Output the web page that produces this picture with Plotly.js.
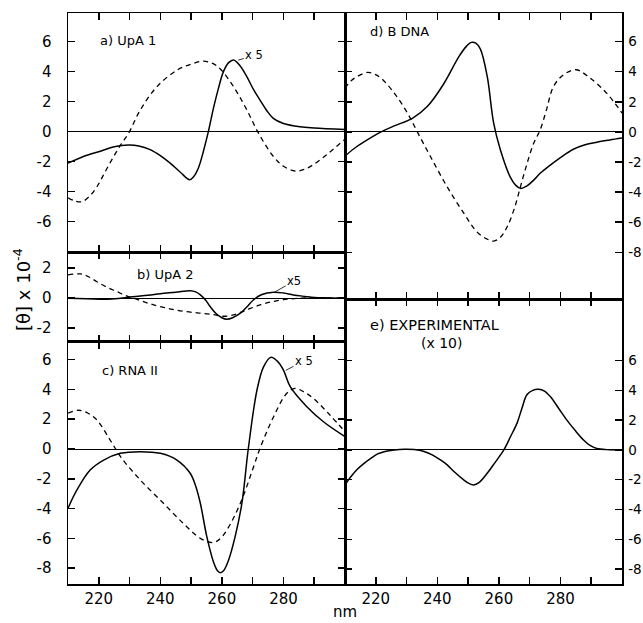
<!DOCTYPE html>
<html>
<head>
<meta charset="utf-8">
<script src="https://cdn.plot.ly/plotly-3.0.1.min.js"></script>
<style>html,body{margin:0;padding:0;background:#fff;}#chart{width:643px;height:623px;}</style>
</head>
<body>
<div id="chart"></div>
<script>
// ---- data (wavelength nm, [theta] x 10^-4) ----
const aSolidNm = [210,215,220.5,225,229.7,233,236.7,240,243.2,246.5,249.5,250.8,252.4,254,255.6,257.3,258.9,260.5,262.2,263.8,265.9,268.1,270.3,272.4,274.6,276.7,280,285.4,290,300];
const aSolidVal = [-2.1,-1.65,-1.3,-1.0,-0.89,-0.95,-1.2,-1.6,-2.1,-2.7,-3.2,-3.0,-2.4,-1.3,0,1.6,2.9,4.0,4.6,4.78,4.4,3.67,2.8,2.1,1.4,0.89,0.55,0.33,0.25,0.15];
const aDashNm = [210,212,214.5,217,219.4,222,224.8,227.2,229.7,233.5,238.9,245.4,250,254,257,259.4,263.8,268.1,271.9,276.8,280,283.8,287,289.7,293,296,300];
const aDashVal = [-4.4,-4.6,-4.67,-4.3,-3.67,-2.7,-1.67,-0.85,-0.1,1.45,3.0,4.1,4.5,4.7,4.55,4.2,3.0,1.45,-0.1,-1.67,-2.3,-2.62,-2.5,-2.2,-1.7,-1.2,-0.5];

const bSolidNm = [210,216,222.7,227,231,236,240,245,249.7,251.5,253,254.8,256.2,258,260,261.6,263.5,266,268,270.3,273,276.8,280,283.2,287,290,295,300];
const bSolidVal = [0,-0.03,-0.07,0,0.1,0.2,0.3,0.4,0.5,0.42,0.22,-0.15,-0.56,-1.0,-1.3,-1.4,-1.3,-1.0,-0.6,-0.1,0.25,0.4,0.35,0.22,0.12,0.05,0.02,0];
const bDashNm = [210,214,216.5,219.4,222.5,225.9,229,232.4,236,240,244,248.6,253,257.3,260,263,266,269,272.4,276,280,285,290,300];
const bDashVal = [1.55,1.62,1.45,1.1,0.75,0.44,0.15,-0.07,-0.33,-0.56,-0.75,-0.9,-1.0,-1.1,-1.2,-1.15,-0.95,-0.7,-0.45,-0.25,-0.1,0,0.02,0];

const cSolidNm = [210,212.9,217.2,221.6,227,233.5,240,245.4,249.7,251.5,253,255.1,257.3,258.5,259.5,260.6,262.1,264.3,266.5,268.6,271.4,273.5,275.9,278,280,282.2,287.6,293,300];
const cSolidVal = [-3.98,-2.75,-1.41,-0.74,-0.29,-0.18,-0.29,-0.74,-1.63,-2.5,-3.64,-5.88,-7.6,-8.15,-8.3,-8.15,-7.5,-5.88,-3.64,0.05,3.96,5.5,6.15,5.9,5.3,4.18,2.84,1.83,0.83];
const cDashNm = [210,213.4,216.5,219.4,223.7,227.5,233.5,241,247.5,253,256.8,259,261.6,266,270.3,272.4,276.8,281.1,283.8,286.5,289.7,295.1,300];
const cDashVal = [2.4,2.6,2.4,1.95,0.6,-0.63,-2.08,-3.64,-5,-6.0,-6.28,-6.1,-5.44,-3.64,-1.19,0.05,2.17,3.74,4.07,3.85,3.4,2.28,1.16];

const dSolidNm = [210,213,216.3,221.7,226,231.9,236.8,242.1,247,249.5,251,252.5,254,256.2,258.3,260.5,263.7,265.5,267,269,271.3,273.4,276.7,280,284.2,288,291.8,296,300];
const dSolidVal = [-1.6,-1.1,-0.65,0,0.4,0.9,1.7,3.2,5.0,5.7,5.95,5.9,5.5,3.7,0.58,-1.2,-3.0,-3.55,-3.75,-3.6,-3.2,-2.75,-2.2,-1.7,-1.15,-0.85,-0.68,-0.53,-0.4];
const dDashNm = [210,212,214.1,217.3,219.5,221.7,226,230.3,233.5,237.8,243.2,248.6,252.9,256,258.3,260.5,262.7,265,267,269,271.3,273.4,275.5,277.7,281,285.1,289.6,295,300];
const dDashVal = [2.9,3.4,3.7,3.95,3.85,3.58,2.58,1.25,0,-1.65,-3.65,-5.4,-6.65,-7.1,-7.25,-7.0,-6.3,-5.1,-3.65,-2.2,-0.75,0.13,1.5,3.0,3.8,4.13,3.58,2.58,1.25];

const eNm = [210,211.9,214,216.2,218.5,220.6,223,226,229.3,232.5,235.7,238.5,241,243.2,245.4,248.5,250.3,251.8,253.5,256.2,258.9,261.6,263.8,265.9,267.5,269.1,271,272.9,274.8,276.7,279.4,282.1,284.8,287.5,289.6,291.8,295,300];
const eVal = [-2.35,-1.8,-1.3,-0.9,-0.55,-0.27,-0.1,0,0.05,0.03,-0.1,-0.35,-0.67,-1.0,-1.45,-2.0,-2.25,-2.35,-2.2,-1.57,-0.8,0,0.9,1.8,2.8,3.7,4.0,4.07,3.95,3.58,2.8,2.0,1.3,0.67,0.3,0.1,0.02,0];

const xTickVals = [220,240,260,280];
const xMinorTickVals = [230,250,270,290];
const yTicksAC = [-8,-6,-4,-2,0,2,4,6];
const yTickTextAC = ['-8','-6','-4','-2','0','2','4','6'];
const yTicksA = [-6,-4,-2,0,2,4,6];
const yTickTextA = ['-6','-4','-2','0','2','4','6'];
const yTicksB = [-2,0,2];
const yTickTextB = ['-2','0','2'];
const panelLabels = ['a) UpA 1','b) UpA 2','c) RNA II','d) B DNA','e) EXPERIMENTAL','(x 10)'];

// ---- styling ----
const FONT = 'DejaVu Sans, Arial, sans-serif';
const solid = {color:'#000', width:1.5, shape:'spline', smoothing:1};
const dash = {color:'#000', width:1.3, dash:'5px,4px', shape:'spline', smoothing:1};

function tr(x, y, line, xa, ya){
  return {x:x, y:y, mode:'lines', line:line, xaxis:xa, yaxis:ya, hoverinfo:'skip', showlegend:false};
}
const data = [
  tr(aSolidNm,aSolidVal,solid,'x','y'), tr(aDashNm,aDashVal,dash,'x','y'),
  tr(bSolidNm,bSolidVal,solid,'x2','y2'), tr(bDashNm,bDashVal,dash,'x2','y2'),
  tr(cSolidNm,cSolidVal,solid,'x3','y3'), tr(cDashNm,cDashVal,dash,'x3','y3'),
  tr(dSolidNm,dSolidVal,solid,'x4','y4'), tr(dDashNm,dDashVal,dash,'x4','y4'),
  tr(eNm,eVal,solid,'x5','y5')
];

function xax(domain, anchor, labels){
  return {domain:domain, anchor:anchor, range:[210,300], showline:true, linecolor:'#000', linewidth:1.5,
    mirror:'allticks', ticks:'inside', ticklen:7, tickcolor:'#000', tickwidth:1.5,
    tickmode:'array', tickvals:xTickVals, showticklabels:labels,
    minor:{tickmode:'array', tickvals:xMinorTickVals, ticks:'inside', ticklen:7, tickcolor:'#000', tickwidth:1.5, showgrid:false},
    showgrid:false, zeroline:false, tickfont:{family:FONT, size:15, color:'#000'}};
}
function yax(domain, anchor, range, ticks, text, side){
  return {domain:domain, anchor:anchor, range:range, side:side, showline:true, linecolor:'#000', linewidth:1.5,
    mirror:'allticks', ticks:'inside', ticklen:7, tickcolor:'#000', tickwidth:1.5,
    tickmode:'array', tickvals:ticks, ticktext:text, showgrid:false,
    zeroline:true, zerolinecolor:'#000', zerolinewidth:1,
    ticklabelstandoff: side==='left'?12:2,
    tickfont:{family:FONT, size: side==='left'?15:13.5, color:'#000'}};
}

const ann = (x,y,xref,yref,text,opts) => Object.assign({x:x,y:y,xref:xref,yref:yref,text:text,showarrow:false,
  font:{family:FONT,size:12.5,color:'#000'}}, opts||{});

const layout = {
  width:643, height:623,
  margin:{l:68, r:21, t:13, b:39},
  paper_bgcolor:'#fff', plot_bgcolor:'#fff',
  showlegend:false,
  xaxis: xax([0,0.5],'y',false),
  xaxis2: xax([0,0.5],'y2',false),
  xaxis3: xax([0,0.5],'y3',true),
  xaxis4: xax([0.5,1],'y4',false),
  xaxis5: xax([0.5,1],'y5',true),
  yaxis: yax([0.5814,1],'x',[-8.02,7.91],yTicksA,yTickTextA,'left'),
  yaxis2: yax([0.4243,0.5814],'x2',[-2.9,3.08],yTicksB,yTickTextB,'left'),
  yaxis3: yax([0,0.4243],'x3',[-9.06,7.2],yTicksAC,yTickTextAC,'left'),
  yaxis4: yax([0.4991,1],'x4',[-11.1,7.9],yTicksAC,yTickTextAC,'right'),
  yaxis5: yax([0,0.4991],'x5',[-9,10.13],yTicksAC,yTickTextAC,'right'),
  annotations:[
    ann(219.8,6.1,'x','y',panelLabels[0],{xanchor:'left',yanchor:'middle',font:{family:FONT,size:13,color:'#000'}}),
    ann(231.9,1.55,'x2','y2',panelLabels[1],{xanchor:'left',yanchor:'middle',font:{family:FONT,size:13,color:'#000'}}),
    ann(220.5,5.3,'x3','y3',panelLabels[2],{xanchor:'left',yanchor:'middle',font:{family:FONT,size:13,color:'#000'}}),
    ann(217.5,6.67,'x4','y4',panelLabels[3],{xanchor:'left',yanchor:'middle',font:{family:FONT,size:13,color:'#000'}}),
    ann(217.5,8.4,'x5','y5',panelLabels[4],{xanchor:'left',yanchor:'middle',font:{family:FONT,size:14.5,color:'#000'}}),
    ann(241.2,7.2,'x5','y5',panelLabels[5],{xanchor:'center',yanchor:'middle',font:{family:FONT,size:14,color:'#000'}}),
    ann(265,4.75,'x','y','x 5',{showarrow:true,arrowhead:0,arrowwidth:0.8,arrowcolor:'#000',ax:17,ay:-5,standoff:1,font:{family:FONT,size:11.5,color:'#000'}}),
    ann(277,0.4,'x2','y2','x5',{showarrow:true,arrowhead:0,arrowwidth:0.8,arrowcolor:'#000',ax:20,ay:-11,standoff:1,font:{family:FONT,size:11.5,color:'#000'}}),
    ann(280.5,5.25,'x3','y3','x 5',{showarrow:true,arrowhead:0,arrowwidth:0.8,arrowcolor:'#000',ax:19,ay:-10,standoff:1,font:{family:FONT,size:11.5,color:'#000'}}),
    ann(-0.083,0.515,'paper','paper','[θ] x 10<sup>-4</sup>',{xanchor:'center',yanchor:'middle',textangle:-90,font:{family:FONT,size:18,color:'#000'}}),
    ann(0.5,-0.049,'paper','paper','nm',{xanchor:'center',yanchor:'middle',font:{family:FONT,size:15,color:'#000'}})
  ]
};

Plotly.newPlot('chart', data, layout, {staticPlot:true, displayModeBar:false});
</script>
</body>
</html>
